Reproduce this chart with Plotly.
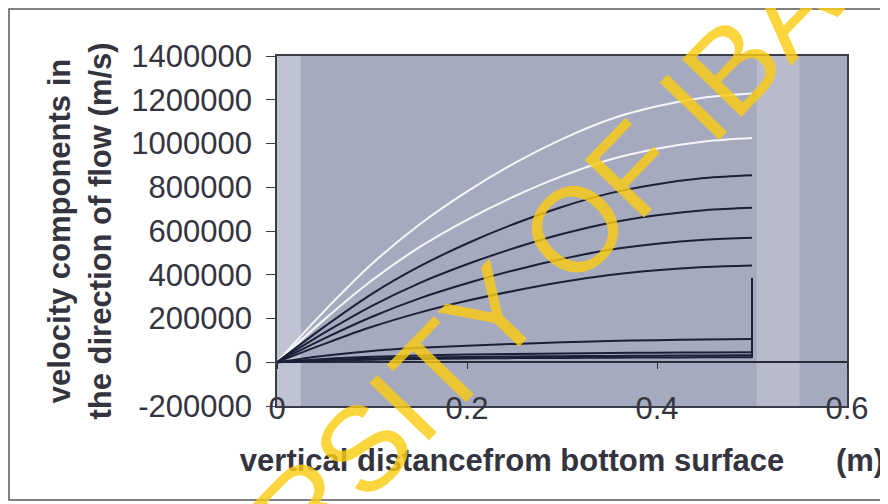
import plotly.graph_objects as go

# ---------------- data ----------------
distance_m = [0, 0.05, 0.10, 0.15, 0.20, 0.25, 0.30, 0.35, 0.40, 0.45, 0.50]

white_1 = [0, 235000, 450000, 630000, 780000, 910000, 1020000, 1110000, 1170000, 1210000, 1229000]
white_2 = [0, 196000, 375000, 526000, 651000, 759000, 851000, 926000, 976000, 1009000, 1025000]
dark_1 = [0, 163000, 313000, 438000, 543000, 633000, 710000, 772000, 814000, 842000, 855000]
dark_2 = [0, 135000, 258000, 362000, 448000, 522000, 586000, 637000, 672000, 695000, 706000]
dark_3 = [0, 109000, 208000, 292000, 361000, 421000, 472000, 514000, 542000, 560000, 569000]
dark_4 = [0, 84000, 162000, 227000, 281000, 327000, 367000, 399000, 421000, 435000, 442000]
low_1 = [0, 30000, 52000, 66000, 76000, 84000, 91000, 97000, 101000, 104000, 106000]
low_2 = [0, 15000, 25000, 31000, 35000, 38000, 40000, 42000, 44000, 45000, 46000]
low_3 = [0, 10000, 17000, 21000, 24000, 26000, 28000, 29000, 30000, 31000, 32000]
low_4 = [0, 7000, 12000, 15000, 17000, 19000, 20000, 21000, 22000, 22500, 23000]

edge_x = [0.5, 0.5]
edge_y = [20000, 385000]

x_ticks = [0, 0.2, 0.4, 0.6]
x_tick_text = ["0", "0.2", "0.4", "0.6"]
y_ticks = [-200000, 0, 200000, 400000, 600000, 800000, 1000000, 1200000, 1400000]
y_tick_text = ["-200000", "0", "200000", "400000", "600000", "800000",
               "1000000", "1200000", "1400000"]

# ---------------- figure ----------------
OFF = 8                     # default page margin of the html body
W, H = 888 - OFF, 504 - OFF
ML, MR, MT, MB = 277 - OFF, 41, 56 - OFF, 98
PW, PH = W - ML - MR, H - MT - MB


def px_to_paper(px, py):
    """page pixel -> paper coordinates"""
    return (px - OFF - ML) / PW, (H - MB - (py - OFF)) / PH


FONT = "Liberation Sans, Arial, sans-serif"
TXT = "#34343f"
DARK = "#1b1f38"
WHITE = "#f6f6fa"

fig = go.Figure()

series = [
    (white_1, WHITE), (white_2, WHITE),
    (dark_1, DARK), (dark_2, DARK), (dark_3, DARK), (dark_4, DARK),
    (low_1, DARK), (low_2, DARK), (low_3, DARK), (low_4, DARK),
]
for vals, col in series:
    fig.add_trace(go.Scatter(x=distance_m, y=vals, mode="lines",
                             line=dict(color=col, width=2, shape="spline", smoothing=1.0),
                             showlegend=False, hoverinfo="skip"))
fig.add_trace(go.Scatter(x=edge_x, y=edge_y, mode="lines",
                         line=dict(color=DARK, width=2), showlegend=False, hoverinfo="skip"))
# helper (empty) trace so the tick-only axis at y=0 is drawn
fig.add_trace(go.Scatter(x=[], y=[], xaxis="x2", yaxis="y", showlegend=False, hoverinfo="skip"))

zero_pos = (0 - y_ticks[0]) / (y_ticks[-1] - y_ticks[0])

fig.update_layout(
    width=W, height=H,
    margin=dict(l=ML, r=MR, t=MT, b=MB, autoexpand=False),
    paper_bgcolor="white",
    plot_bgcolor="#a6aabe",
    font=dict(family=FONT, color=TXT),
    xaxis=dict(
        range=[x_ticks[0], x_ticks[-1]], tickvals=x_ticks, ticktext=x_tick_text,
        showgrid=False, zeroline=False, showline=True, mirror=True,
        linecolor="#3c3c48", linewidth=1.5, ticks="",
        tickfont=dict(size=31, family=FONT, color=TXT),
        ticklabelstandoff=-26,
        title=dict(text="vertical distancefrom bottom surface" + "\u00a0" * 6 + "(m)",
                   font=dict(size=31, family=FONT, color=TXT, weight="bold"),
                   standoff=24),
    ),
    xaxis2=dict(
        overlaying="x", anchor="free", position=zero_pos, side="bottom",
        range=[x_ticks[0], x_ticks[-1]], tickvals=x_ticks,
        showticklabels=False, ticks="outside", ticklen=6, tickcolor="#2a2a36",
        showgrid=False, zeroline=False, showline=False,
    ),
    yaxis=dict(
        range=[y_ticks[0], y_ticks[-1]], tickvals=y_ticks, ticktext=y_tick_text,
        showgrid=False, zeroline=True, zerolinecolor="#2a2a36", zerolinewidth=1.5,
        showline=True, mirror=True, linecolor="#3c3c48", linewidth=1.5,
        ticks="outside", ticklen=9, tickcolor="#3c3c48",
        tickfont=dict(size=31, family=FONT, color=TXT),
        ticklabelstandoff=8,
        title=dict(text="velocity components in<br>the direction of flow (m/s)",
                   font=dict(size=31, family=FONT, color=TXT, weight="bold"),
                   standoff=11),
    ),
)

# lighter bands in the shaded background
fig.add_shape(type="rect", xref="x", yref="paper", x0=0, x1=0.025, y0=0, y1=1,
              fillcolor="#c0c3d1", line_width=0, layer="below")
fig.add_shape(type="rect", xref="x", yref="paper", x0=0.505, x1=0.55, y0=0, y1=1,
              fillcolor="#b8bbcb", line_width=0, layer="below")

# outer frame of the figure
fx0, fy0 = px_to_paper(OFF + 1, 500)
fx1, fy1 = px_to_paper(900, OFF + 1)
fig.add_shape(type="rect", xref="paper", yref="paper", x0=fx0, y0=fy0, x1=fx1, y1=fy1,
              line=dict(color="#55555f", width=1.5), fillcolor="rgba(0,0,0,0)", layer="below")

# watermark
wx, wy = px_to_paper(506, 300)
fig.add_annotation(text="UNIVERSITY OF IBADAN", xref="paper", yref="paper", x=wx, y=wy,
                   xanchor="center", yanchor="middle", textangle=-46, showarrow=False,
                   font=dict(size=120, family=FONT, color="rgba(250,204,20,0.82)"))

fig.write_html("out.html")
